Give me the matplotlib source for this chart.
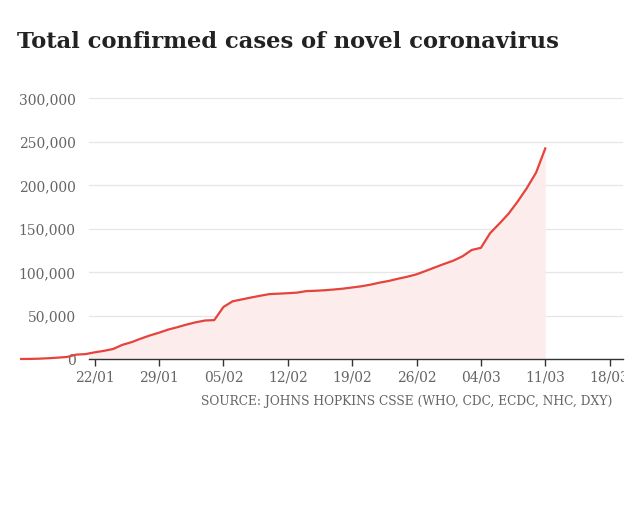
import matplotlib.pyplot as plt
import matplotlib.dates as mdates
from matplotlib.transforms import Bbox
import pandas as pd

# cumulative confirmed cases, as drawn (line sits 8 days left of the real dates)
dates = pd.date_range("2020-01-14", periods=58, freq="D")
cases = [555, 654, 941, 1434, 2118, 2927, 5578, 6166, 8234, 9927,
         12038, 16787, 19881, 23892, 27635, 30794, 34391, 37120, 40150, 42762,
         44802, 45221, 60368, 66885, 69030, 71224, 73258, 75136, 75639, 76197,
         76823, 78579, 78965, 79568, 80413, 81395, 82754, 84120, 86011, 88369,
         90306, 92840, 95120, 97886, 101801, 105847, 109821, 113590, 118620, 125875,
         128352, 145205, 156101, 167454, 181574, 197102, 214821, 242570]
yticks = [0, 50000, 100000, 150000, 200000, 250000, 300000]
xticks = pd.date_range("2020-01-22", "2020-03-18", freq="7D")

title = "Total confirmed cases of novel coronavirus"
source = "SOURCE: JOHNS HOPKINS CSSE (WHO, CDC, ECDC, NHC, DXY)"

line_color = "#e5433b"
fill_color = "#fcecec"
label_color = "#666666"

plt.rcParams["font.family"] = ["DejaVu Serif"]

fig = plt.figure(figsize=(6.4, 5.2), dpi=100)
ax = fig.add_axes([0.1398, 0.3087, 0.8336, 0.5103])

ax.fill_between(dates, 0, cases, color=fill_color, lw=0)
ax.plot(dates, cases, color=line_color, lw=1.6, clip_on=False, zorder=3)

x0 = pd.Timestamp("2020-01-22")
ax.set_xlim(x0 - pd.Timedelta(days=0.57), x0 + pd.Timedelta(days=57.45))
ax.set_ylim(0, 305000)

ax.set_yticks(yticks)
ax.set_yticklabels([f"{v:,}" for v in yticks])
ax.set_xticks(xticks)
ax.xaxis.set_major_formatter(mdates.DateFormatter("%d/%m"))

ax.grid(axis="y", color="#e6e6e6", lw=0.9)
ax.set_axisbelow(True)
for s in ["top", "right", "left"]:
    ax.spines[s].set_visible(False)
ax.spines["bottom"].set_color("#333333")
ax.spines["bottom"].set_linewidth(1.0)
ax.tick_params(axis="y", length=0, pad=10, labelsize=10, labelcolor=label_color)
ax.tick_params(axis="x", length=5, width=1, color="#333333", pad=3,
               labelsize=10, labelcolor=label_color)

# the last date label is cut off at the chart's right edge in the original
clip = Bbox([[0, 0], [624, 520]])
for lab in ax.get_xticklabels():
    lab.set_clip_box(clip)
    lab.set_clip_on(True)

fig.text(0.027, 0.92, title, fontsize=16.3, fontweight="bold",
         color="#222222", va="center", ha="left")
fig.text(0.957, 0.227, source, fontsize=8.8, color=label_color,
         va="center", ha="right")

fig.savefig("out.png", dpi=100)
